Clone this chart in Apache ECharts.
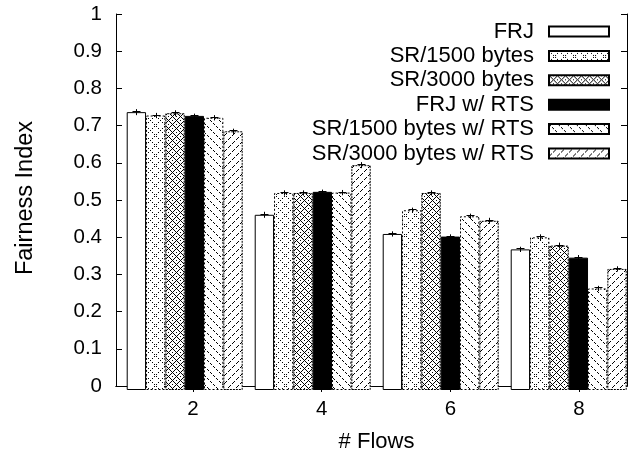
<!DOCTYPE html>
<html>
<head>
<meta charset="utf-8">
<script src="https://cdn.jsdelivr.net/npm/echarts@6/dist/echarts.min.js"></script>
<style>
html, body { margin: 0; padding: 0; background: #fff; }
#chart { width: 641px; height: 458px; }
</style>
</head>
<body>
<div id="chart"></div>
<script>
// categories (# flows) and tick values
var flows = ['2', '4', '6', '8'];
var flowTicks = [2, 4, 6, 8];
var seriesNames = ['FRJ', 'SR/1500 bytes', 'SR/3000 bytes', 'FRJ w/ RTS', 'SR/1500 bytes w/ RTS', 'SR/3000 bytes w/ RTS'];

// fairness index, one array per series
var frj       = [0.739, 0.466, 0.415, 0.374];
var sr1500    = [0.730, 0.524, 0.478, 0.406];
var sr3000    = [0.736, 0.524, 0.524, 0.384];
var frjRts    = [0.729, 0.527, 0.408, 0.352];
var sr1500Rts = [0.724, 0.525, 0.462, 0.270];
var sr3000Rts = [0.688, 0.598, 0.450, 0.322];

// error bar half heights
var errFrj       = [0.008, 0.008, 0.007, 0.007];
var errSr1500    = [0.007, 0.007, 0.007, 0.008];
var errSr3000    = [0.008, 0.007, 0.007, 0.008];
var errFrjRts    = [0.006, 0.006, 0.006, 0.007];
var errSr1500Rts = [0.007, 0.007, 0.007, 0.007];
var errSr3000Rts = [0.007, 0.008, 0.008, 0.007];

var values = [frj, sr1500, sr3000, frjRts, sr1500Rts, sr3000Rts];
var errors = [errFrj, errSr1500, errSr3000, errFrjRts, errSr1500Rts, errSr3000Rts];

var FONT = '"Liberation Sans", Arial, Helvetica, sans-serif';
var GAP = 0.094;

// little repeating fill tiles, gnuplot-ish patterns
function tile(size, on) {
    var c = document.createElement('canvas');
    c.width = size;
    c.height = size;
    var g = c.getContext('2d');
    g.fillStyle = '#fff';
    g.fillRect(0, 0, size, size);
    g.fillStyle = '#000';
    for (var y = 0; y < size; y++) {
        for (var x = 0; x < size; x++) {
            if (on(x, y)) g.fillRect(x, y, 1, 1);
        }
    }
    return { image: c, repeat: 'repeat' };
}

var styles = [
    { color: '#fff', borderColor: '#000', borderWidth: 1 },
    { color: tile(10, function(x, y) { return ((x + y) % 10 === 0 || (x - y + 10) % 10 === 0) && x % 2 === 0; }),
      borderColor: '#000', borderWidth: 1, borderType: [2, 2] },
    { color: tile(8, function(x, y) {
          return (x + y) % 8 === 0 || (x - y + 8) % 8 === 0 || (x === 4 && y === 0) || (x === 0 && y === 4);
      }),
      borderColor: '#000', borderWidth: 1, borderType: [2, 1] },
    { color: '#000', borderColor: '#000', borderWidth: 1 },
    { color: tile(9, function(x, y) { return (x - y + 9) % 9 === 0 && x % 3 !== 2; }),
      borderColor: '#000', borderWidth: 1, borderType: [2, 2] },
    { color: tile(8, function(x, y) { return (x + y) % 8 === 7 && x % 4 !== 3; }),
      borderColor: '#000', borderWidth: 1, borderType: [2, 1] }
];

var barSeries = seriesNames.map(function(name, i) {
    return {
        name: name,
        type: 'bar',
        xAxisIndex: 2,
        yAxisIndex: 2,
        data: values[i],
        barGap: '0%',
        barCategoryGap: (GAP * 100) + '%',
        itemStyle: styles[i],
        emphasis: { disabled: true }
    };
});

var errData = [];
values.forEach(function(vals, i) {
    vals.forEach(function(v, j) {
        errData.push([j, v, errors[i][j], i]);
    });
});

// error bars, drawn as small "+" marks on the bar tops
var errSeries = {
    type: 'custom',
    xAxisIndex: 2,
    yAxisIndex: 2,
    z: 5,
    silent: true,
    data: errData,
    encode: { x: 0, y: 1 },
    renderItem: function(params, api) {
        var cat = api.value(0), v = api.value(1), e = api.value(2), s = api.value(3);
        var band = api.size([1, 0])[0];
        var bw = band * (1 - GAP) / seriesNames.length;
        var x = Math.round(api.coord([cat, v])[0] + (s - (seriesNames.length - 1) / 2) * bw) + 0.5;
        var mid = Math.round(api.coord([cat, v])[1]) + 0.5;
        var hi = api.coord([cat, v + e])[1];
        var lo = api.coord([cat, v - e])[1];
        var st = { stroke: '#000', lineWidth: 1 };
        return {
            type: 'group',
            children: [
                { type: 'line', shape: { x1: x, y1: hi, x2: x, y2: lo }, style: st },
                { type: 'line', shape: { x1: x - 4, y1: mid - 1, x2: x + 4, y2: mid - 1 }, style: st }
            ]
        };
    }
};

var axisLine = { show: true, lineStyle: { color: '#000', width: 1 } };
var tickIn = { show: true, inside: true, length: 6, lineStyle: { color: '#000' } };

var option = {
    animation: false,
    backgroundColor: '#fff',
    textStyle: { fontFamily: FONT, color: '#000' },
    grid: [
        { left: 116, right: 14, top: 14, bottom: 68 },
        { left: 120.7, right: 8.3, top: 14, bottom: 68 }
    ],
    legend: {
        data: seriesNames,
        orient: 'vertical',
        align: 'right',
        right: 31,
        top: 20.5,
        padding: 0,
        icon: 'rect',
        itemWidth: 60,
        itemHeight: 10,
        itemGap: 2.4,
        selectedMode: false,
        textStyle: { fontFamily: FONT, fontSize: 22, lineHeight: 20, color: '#000', padding: [0, 10, 0, 0] }
    },
    xAxis: [
        {
            type: 'value', gridIndex: 0, position: 'bottom', min: 0.803, max: 8.746,
            axisLine: axisLine, splitLine: { show: false },
            axisTick: { show: true, inside: true, length: 6, lineStyle: { color: '#000' }, customValues: flowTicks },
            axisLabel: { customValues: flowTicks, fontSize: 20.5, color: '#000', fontFamily: FONT, margin: 13 },
            name: '# Flows', nameLocation: 'middle', nameGap: 45,
            nameTextStyle: { fontSize: 22, color: '#000', fontFamily: FONT, padding: [0, 0, 0, 10] }
        },
        {
            type: 'value', gridIndex: 0, position: 'top', min: 0.803, max: 8.746,
            axisLine: axisLine, splitLine: { show: false },
            axisTick: { show: true, inside: true, length: 6, lineStyle: { color: '#000' }, customValues: flowTicks },
            axisLabel: { show: false }
        },
        {
            type: 'category', gridIndex: 1, data: flows,
            axisLine: { show: false }, axisTick: { show: false }, axisLabel: { show: false }, splitLine: { show: false }
        }
    ],
    yAxis: [
        {
            type: 'value', gridIndex: 0, position: 'left', min: 0, max: 1, interval: 0.1,
            axisLine: axisLine, axisTick: tickIn, splitLine: { show: false },
            axisLabel: { fontSize: 20.5, color: '#000', fontFamily: FONT, margin: 14 },
            name: 'Fairness Index', nameLocation: 'middle', nameGap: 78, nameRotate: 90,
            nameTextStyle: { fontSize: 23.5, color: '#000', fontFamily: FONT, padding: [0, 0, 0, 4] }
        },
        {
            type: 'value', gridIndex: 0, position: 'right', min: 0, max: 1, interval: 0.1,
            axisLine: axisLine, axisTick: tickIn, splitLine: { show: false },
            axisLabel: { show: false }
        },
        {
            type: 'value', gridIndex: 1, min: 0, max: 1,
            show: false
        }
    ],
    series: barSeries.concat([errSeries])
};

echarts.init(document.getElementById('chart')).setOption(option);
</script>
</body>
</html>
